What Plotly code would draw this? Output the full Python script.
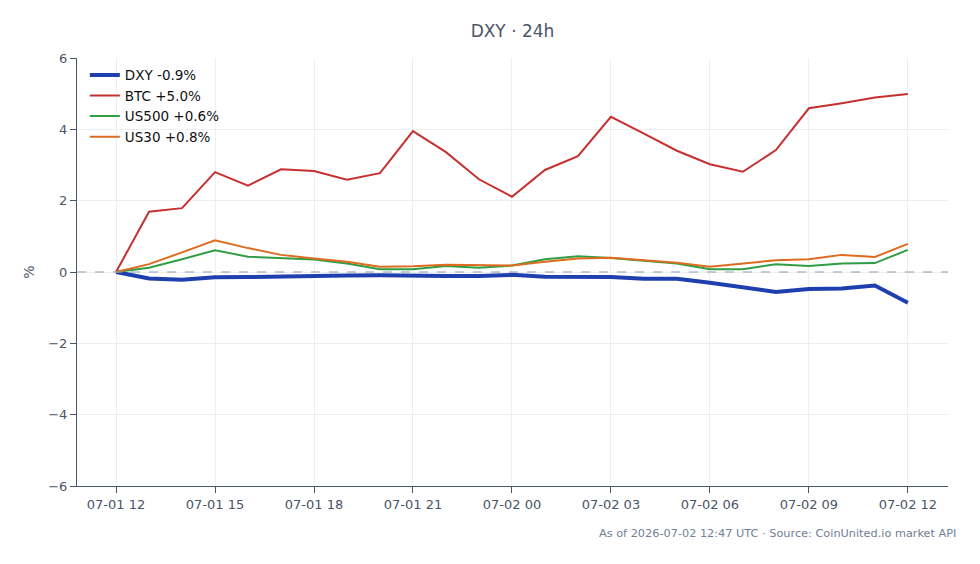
import pandas as pd
import plotly.graph_objects as go

times = pd.date_range("2026-07-01 12:00", "2026-07-02 12:00", freq="h")

dxy = [0.00, -0.18, -0.22, -0.15, -0.14, -0.12, -0.11, -0.10, -0.09, -0.11, -0.11, -0.11,
       -0.08, -0.13, -0.14, -0.14, -0.19, -0.19, -0.30, -0.43, -0.56, -0.48, -0.46, -0.38, -0.86]
btc = [0.00, 1.69, 1.79, 2.80, 2.42, 2.88, 2.83, 2.59, 2.77, 3.95, 3.36, 2.60,
       2.11, 2.86, 3.25, 4.35, 3.88, 3.40, 3.02, 2.81, 3.42, 4.59, 4.73, 4.89, 4.99]
us500 = [0.00, 0.12, 0.36, 0.61, 0.43, 0.38, 0.35, 0.24, 0.08, 0.08, 0.17, 0.12,
         0.18, 0.36, 0.44, 0.39, 0.31, 0.24, 0.08, 0.08, 0.22, 0.17, 0.24, 0.25, 0.62]
us30 = [0.00, 0.22, 0.55, 0.89, 0.67, 0.48, 0.38, 0.29, 0.15, 0.16, 0.20, 0.18,
        0.18, 0.29, 0.38, 0.40, 0.34, 0.26, 0.15, 0.23, 0.33, 0.36, 0.48, 0.42, 0.79]

series = [
    ("DXY -0.9%", dxy, "#1e40af", 4),
    ("BTC +5.0%", btc, "#c53030", 2),
    ("US500 +0.6%", us500, "#2f9e44", 2),
    ("US30 +0.8%", us30, "#dd6b20", 2),
]

fig = go.Figure()
for name, vals, color, w in series:
    fig.add_trace(go.Scatter(x=times, y=vals, mode="lines", name=name,
                             line=dict(color=color, width=w)))

fig.add_hline(y=0, line=dict(color="#8a9bb5", width=1, dash="dash"))

axis_font = dict(family="DejaVu Sans", size=13, color="#4a5568")
fig.update_layout(
    width=980, height=564,
    margin=dict(l=77, r=32, t=58, b=78),
    paper_bgcolor="white", plot_bgcolor="white",
    font=dict(family="DejaVu Sans", size=13, color="#4a5568"),
    title=dict(text="DXY · 24h", x=0.5, xref="paper", y=0.945, yref="container",
               xanchor="center", yanchor="middle",
               font=dict(family="DejaVu Sans", size=17, color="#4a5568")),
    showlegend=True,
    legend=dict(x=0.009, y=0.996, xanchor="left", yanchor="top",
                bgcolor="rgba(255,255,255,0)", borderwidth=0,
                font=dict(family="DejaVu Sans", size=13.5, color="#111111"),
                tracegroupgap=0, itemwidth=30),
    xaxis=dict(
        range=["2026-07-01 10:49", "2026-07-02 13:13"],
        tickformat="%m-%d %H", dtick=3 * 3600 * 1000, tick0="2026-07-01 12:00",
        showgrid=True, gridcolor="#eeeeee", gridwidth=1,
        showline=True, linecolor="#4a5568", linewidth=1,
        ticks="outside", ticklen=6, tickcolor="#4a5568",
        tickfont=axis_font, zeroline=False,
    ),
    yaxis=dict(
        range=[-6, 6], dtick=2,
        title=dict(text="%", font=dict(family="DejaVu Sans", size=14, color="#4a5568"), standoff=10),
        showgrid=True, gridcolor="#eeeeee", gridwidth=1,
        showline=True, linecolor="#4a5568", linewidth=1,
        ticks="outside", ticklen=6, tickcolor="#4a5568",
        tickfont=axis_font, zeroline=False,
    ),
    annotations=[dict(
        text="As of 2026-07-02 12:47 UTC · Source: CoinUnited.io market API",
        xref="paper", yref="paper", x=1.011, y=-0.091, xanchor="right", yanchor="top",
        showarrow=False, font=dict(family="DejaVu Sans", size=11.3, color="#718096"),
    )],
)

fig.write_html("out.html")
